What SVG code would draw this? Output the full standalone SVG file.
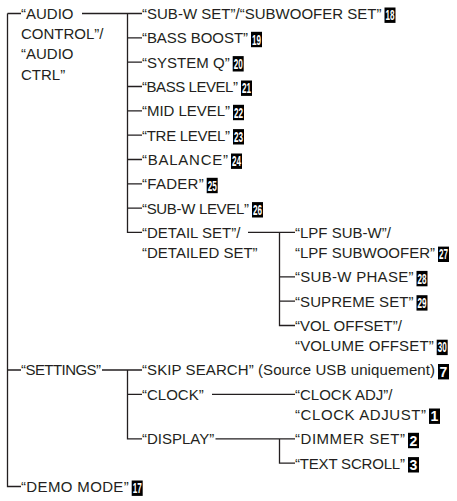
<svg xmlns="http://www.w3.org/2000/svg" width="457" height="501" viewBox="0 0 457 501">
<style>
  .t { font-family: "Liberation Sans", Arial, sans-serif; font-size: 15px; fill: #231f20; }
  .c { fill: none; stroke: #231f20; stroke-width: 1.3; }
  .b { fill: #000; }
  .n { font-family: "Liberation Sans", Arial, sans-serif; font-weight: bold; font-size: 14px; fill: #fff; text-anchor: middle; }
</style>
<rect width="457" height="501" fill="#fff"/>
<g id="connectors" class="c">
  <path d="M7.5,13.5 H21 M7.5,13.5 V486.5 H21 M7.5,370 H21"/>
  <path d="M82,13.5 H142 M127.5,13.5 V232.4 H142 M127.5,37.8 H142 M127.5,62.1 H142 M127.5,86.5 H142 M127.5,110.8 H142 M127.5,135.1 H142 M127.5,159.5 H142 M127.5,183.8 H142 M127.5,208.1 H142"/>
  <path d="M248,232.4 H295 M279.5,232.4 V325.5 H295 M279.5,276.9 H295 M279.5,301.2 H295"/>
  <path d="M102,370 H142 M127.5,370 V438.8 H142 M127.5,394.3 H142"/>
  <path d="M212,394.3 H295"/>
  <path d="M215.5,438.8 H295 M279.5,438.8 V463.1 H295"/>
</g>
<g id="audio-control">
  <text class="t" x="21" y="18.9">“AUDIO</text>
  <text class="t" x="21" y="39.1">CONTROL”/</text>
  <text class="t" x="21" y="59.3">“AUDIO</text>
  <text class="t" x="21" y="79.5">CTRL”</text>
</g>
<g id="subw-set">
  <text class="t" x="142" y="18.9" textLength="239.5">“SUB-W SET”/“SUBWOOFER SET”</text>
  <rect class="b" x="384.5" y="7.5" width="11" height="15.4"/>
  <text class="n" x="390" y="20.2" textLength="9" lengthAdjust="spacingAndGlyphs">18</text>
</g>
<g id="bass-boost">
  <text class="t" x="142" y="43.2" textLength="106">“BASS BOOST”</text>
  <rect class="b" x="251" y="31.8" width="11" height="15.4"/>
  <text class="n" x="256.5" y="44.5" textLength="9" lengthAdjust="spacingAndGlyphs">19</text>
</g>
<g id="system-q">
  <text class="t" x="142" y="67.5" textLength="87.7">“SYSTEM Q”</text>
  <rect class="b" x="232.7" y="56.1" width="11" height="15.4"/>
  <text class="n" x="238.2" y="68.8" textLength="9" lengthAdjust="spacingAndGlyphs">20</text>
</g>
<g id="bass-level">
  <text class="t" x="142" y="91.9" textLength="96">“BASS LEVEL”</text>
  <rect class="b" x="241" y="80.5" width="11" height="15.4"/>
  <text class="n" x="246.5" y="93.2" textLength="9" lengthAdjust="spacingAndGlyphs">21</text>
</g>
<g id="mid-level">
  <text class="t" x="142" y="116.2" textLength="88">“MID LEVEL”</text>
  <rect class="b" x="233" y="104.8" width="11" height="15.4"/>
  <text class="n" x="238.5" y="117.5" textLength="9" lengthAdjust="spacingAndGlyphs">22</text>
</g>
<g id="tre-level">
  <text class="t" x="142" y="140.5" textLength="88">“TRE LEVEL”</text>
  <rect class="b" x="233" y="129.1" width="11" height="15.4"/>
  <text class="n" x="238.5" y="141.8" textLength="9" lengthAdjust="spacingAndGlyphs">23</text>
</g>
<g id="balance">
  <text class="t" x="142" y="164.9" textLength="86">“BALANCE”</text>
  <rect class="b" x="231" y="153.5" width="11" height="15.4"/>
  <text class="n" x="236.5" y="166.2" textLength="9" lengthAdjust="spacingAndGlyphs">24</text>
</g>
<g id="fader">
  <text class="t" x="142" y="189.2" textLength="61.7">“FADER”</text>
  <rect class="b" x="206.7" y="177.8" width="11" height="15.4"/>
  <text class="n" x="212.2" y="190.5" textLength="9" lengthAdjust="spacingAndGlyphs">25</text>
</g>
<g id="subw-level">
  <text class="t" x="142" y="213.5" textLength="107">“SUB-W LEVEL”</text>
  <rect class="b" x="252" y="202.1" width="11" height="15.4"/>
  <text class="n" x="257.5" y="214.8" textLength="9" lengthAdjust="spacingAndGlyphs">26</text>
</g>
<g id="detail-set">
  <text class="t" x="142" y="237.8">“DETAIL SET”/</text>
  <text class="t" x="142" y="258">“DETAILED SET”</text>
</g>
<g id="lpf-subw">
  <text class="t" x="295" y="237.8">“LPF SUB-W”/</text>
  <text class="t" x="295" y="258" textLength="140">“LPF SUBWOOFER”</text>
  <rect class="b" x="438" y="246.6" width="11" height="15.4"/>
  <text class="n" x="443.5" y="259.3" textLength="9" lengthAdjust="spacingAndGlyphs">27</text>
</g>
<g id="subw-phase">
  <text class="t" x="295" y="282.3" textLength="118.5">“SUB-W PHASE”</text>
  <rect class="b" x="416.5" y="270.9" width="11" height="15.4"/>
  <text class="n" x="422" y="283.6" textLength="9" lengthAdjust="spacingAndGlyphs">28</text>
</g>
<g id="supreme-set">
  <text class="t" x="295" y="306.6" textLength="118.5">“SUPREME SET”</text>
  <rect class="b" x="416.5" y="295.2" width="11" height="15.4"/>
  <text class="n" x="422" y="307.9" textLength="9" lengthAdjust="spacingAndGlyphs">29</text>
</g>
<g id="vol-offset">
  <text class="t" x="295" y="330.9">“VOL OFFSET”/</text>
  <text class="t" x="295" y="351.1" textLength="138.7">“VOLUME OFFSET”</text>
  <rect class="b" x="436.7" y="339.7" width="11" height="15.4"/>
  <text class="n" x="442.2" y="352.4" textLength="9" lengthAdjust="spacingAndGlyphs">30</text>
</g>
<g id="settings">
  <text class="t" x="21" y="375.4" textLength="80">“SETTINGS”</text>
</g>
<g id="skip-search">
  <text class="t" x="142" y="375.4" textLength="293">“SKIP SEARCH” (Source USB uniquement)</text>
  <rect class="b" x="438" y="364" width="11" height="15.4"/>
  <text class="n" x="443.5" y="376.7">7</text>
</g>
<g id="clock">
  <text class="t" x="142" y="399.7">“CLOCK”</text>
</g>
<g id="clock-adj">
  <text class="t" x="295" y="399.7">“CLOCK ADJ”/</text>
  <text class="t" x="295" y="419.9" textLength="131">“CLOCK ADJUST”</text>
  <rect class="b" x="429" y="408.5" width="11" height="15.4"/>
  <text class="n" x="434.5" y="421.2">1</text>
</g>
<g id="display">
  <text class="t" x="142" y="444.2">“DISPLAY”</text>
</g>
<g id="dimmer-set">
  <text class="t" x="295" y="444.2" textLength="110">“DIMMER SET”</text>
  <rect class="b" x="408" y="432.8" width="11" height="15.4"/>
  <text class="n" x="413.5" y="445.5">2</text>
</g>
<g id="text-scroll">
  <text class="t" x="295" y="468.5" textLength="110">“TEXT SCROLL”</text>
  <rect class="b" x="408" y="457.1" width="11" height="15.4"/>
  <text class="n" x="413.5" y="469.8">3</text>
</g>
<g id="demo-mode">
  <text class="t" x="21" y="491.9" textLength="107.7">“DEMO MODE”</text>
  <rect class="b" x="131.7" y="480.5" width="11" height="15.4"/>
  <text class="n" x="137.2" y="493.2" textLength="9" lengthAdjust="spacingAndGlyphs">17</text>
</g>
</svg>
